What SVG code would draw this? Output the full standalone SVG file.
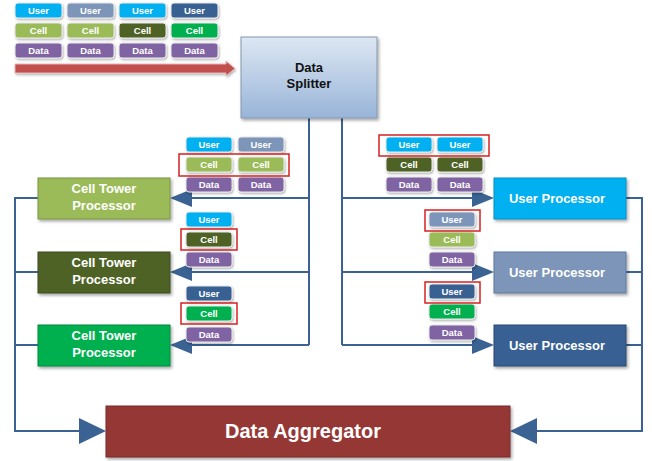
<svg xmlns="http://www.w3.org/2000/svg" width="652" height="461" viewBox="0 0 652 461">
<defs>
<filter id="sh" x="-10%" y="-10%" width="125%" height="130%">
<feDropShadow dx="1.5" dy="2" stdDeviation="1.5" flood-color="#000" flood-opacity="0.35"/>
</filter>
<filter id="tsh" x="-10%" y="-20%" width="125%" height="150%">
<feDropShadow dx="1" dy="1.5" stdDeviation="1" flood-color="#000" flood-opacity="0.3"/>
</filter>
<linearGradient id="spl" x1="0" y1="0" x2="0" y2="1">
<stop offset="0" stop-color="#dde7f3"/>
<stop offset="1" stop-color="#98b4d8"/>
</linearGradient>
</defs>
<style>
.box{stroke-width:1;filter:url(#sh)}
.bt{font-family:"Liberation Sans",Arial,sans-serif;font-weight:bold;fill:#fff;text-anchor:middle}
.tk rect{stroke:#e8e8e8;stroke-width:1;filter:url(#tsh)}
.tk text{font-family:"Liberation Sans",Arial,sans-serif;font-weight:bold;font-size:9.5px;fill:#fff;text-anchor:middle}
.u1{fill:#00b0f0}.u2{fill:#7b95b9}.u3{fill:#376092}
.c1{fill:#9bbb59}.c2{fill:#4f6228}.c3{fill:#00b050}
.d{fill:#8064a2}
.tk rect.sel{fill:none;stroke:#d62020;stroke-width:1.5;filter:none}
.ln{fill:none;stroke:#3a6293;stroke-width:2}
.ah{fill:#3a6293}
</style>

<!-- legend tokens -->
<g id="legend" class="tk">
<rect class="u1" x="15" y="3" width="47" height="15" rx="3"/><text x="38.5" y="14">User</text>
<rect class="u2" x="67" y="3" width="47" height="15" rx="3"/><text x="90.5" y="14">User</text>
<rect class="u1" x="119" y="3" width="47" height="15" rx="3"/><text x="142.5" y="14">User</text>
<rect class="u3" x="171" y="3" width="47" height="15" rx="3"/><text x="194.5" y="14">User</text>
<rect class="c1" x="15" y="23" width="47" height="15" rx="3"/><text x="38.5" y="34">Cell</text>
<rect class="c1" x="67" y="23" width="47" height="15" rx="3"/><text x="90.5" y="34">Cell</text>
<rect class="c2" x="119" y="23" width="47" height="15" rx="3"/><text x="142.5" y="34">Cell</text>
<rect class="c3" x="171" y="23" width="47" height="15" rx="3"/><text x="194.5" y="34">Cell</text>
<rect class="d" x="15" y="43" width="47" height="15" rx="3"/><text x="38.5" y="54">Data</text>
<rect class="d" x="67" y="43" width="47" height="15" rx="3"/><text x="90.5" y="54">Data</text>
<rect class="d" x="119" y="43" width="47" height="15" rx="3"/><text x="142.5" y="54">Data</text>
<rect class="d" x="171" y="43" width="47" height="15" rx="3"/><text x="194.5" y="54">Data</text>
</g>
<g id="flow-arrow">
<polygon points="15,64 226,64 226,61 235,68.5 226,76 226,73 15,73" fill="#c0504d" stroke="#e6b8b7" stroke-width="1" filter="url(#tsh)"/>
</g>

<!-- connectors -->
<g id="connectors">
<path class="ln" d="M309,118 V345 M309,198 H190 M309,272 H190 M309,345 H190"/>
<path class="ln" d="M342,118 V345 M342,198 H474 M342,272 H474 M342,345 H474"/>
<polygon class="ah" points="170,198 192,189 192,207"/>
<polygon class="ah" points="170,272 192,263 192,281"/>
<polygon class="ah" points="170,345 192,336 192,354"/>
<polygon class="ah" points="494,198 472,189 472,207"/>
<polygon class="ah" points="494,272 472,263 472,281"/>
<polygon class="ah" points="494,345 472,336 472,354"/>
<path class="ln" d="M38,198 H15 V431 H82 M38,272 H15 M38,345 H15"/>
<path class="ln" d="M626,198 H642 V431 H536 M626,272 H642 M626,345 H642"/>
<polygon class="ah" points="106,431 79,418 79,444"/>
<polygon class="ah" points="510,431 537,418 537,444"/>
</g>

<!-- data splitter -->
<g id="splitter">
<rect class="box" x="241" y="37" width="136" height="81" fill="url(#spl)" stroke="#8498ae"/>
<text x="309" y="72" font-family="Liberation Sans,Arial,sans-serif" font-weight="bold" font-size="13" fill="#111" text-anchor="middle">Data</text>
<text x="309" y="88" font-family="Liberation Sans,Arial,sans-serif" font-weight="bold" font-size="13" fill="#111" text-anchor="middle">Splitter</text>
</g>

<!-- cell tower processors -->
<g id="ctp1">
<rect class="box" x="38" y="178" width="132" height="41" fill="#9bbb59" stroke="#7a9443"/>
<text class="bt" font-size="13" x="104" y="193">Cell Tower</text>
<text class="bt" font-size="13" x="104" y="210">Processor</text>
</g>
<g id="ctp2">
<rect class="box" x="38" y="252" width="132" height="41" fill="#4f6228" stroke="#3b4a1e"/>
<text class="bt" font-size="13" x="104" y="267">Cell Tower</text>
<text class="bt" font-size="13" x="104" y="284">Processor</text>
</g>
<g id="ctp3">
<rect class="box" x="38" y="325" width="132" height="41" fill="#00b050" stroke="#00893e"/>
<text class="bt" font-size="13" x="104" y="340">Cell Tower</text>
<text class="bt" font-size="13" x="104" y="357">Processor</text>
</g>

<!-- user processors -->
<g id="up1">
<rect class="box" x="494" y="178" width="132" height="41" fill="#00b0f0" stroke="#0090c4"/>
<text class="bt" font-size="13" x="557" y="203">User Processor</text>
</g>
<g id="up2">
<rect class="box" x="494" y="252" width="132" height="41" fill="#7b95b9" stroke="#61799b"/>
<text class="bt" font-size="13" x="557" y="277">User Processor</text>
</g>
<g id="up3">
<rect class="box" x="494" y="325" width="132" height="41" fill="#376092" stroke="#294a72"/>
<text class="bt" font-size="13" x="557" y="350">User Processor</text>
</g>

<!-- aggregator -->
<g id="aggregator">
<rect class="box" x="106" y="406" width="404" height="51" fill="#953735" stroke="#772b2a"/>
<text class="bt" font-size="20" x="303" y="438">Data Aggregator</text>
</g>

<!-- token groups left -->
<g id="tokens-left-1" class="tk">
<rect class="u1" x="186" y="137" width="46" height="15" rx="3"/><text x="209" y="148">User</text>
<rect class="u2" x="238" y="137" width="46" height="15" rx="3"/><text x="261" y="148">User</text>
<rect class="c1" x="186" y="157" width="46" height="15" rx="3"/><text x="209" y="168">Cell</text>
<rect class="c1" x="238" y="157" width="46" height="15" rx="3"/><text x="261" y="168">Cell</text>
<rect class="d" x="186" y="177" width="46" height="15" rx="3"/><text x="209" y="188">Data</text>
<rect class="d" x="238" y="177" width="46" height="15" rx="3"/><text x="261" y="188">Data</text>
<rect class="sel" x="179" y="154" width="110" height="22"/>
</g>
<g id="tokens-left-2" class="tk">
<rect class="u1" x="186" y="212" width="46" height="15" rx="3"/><text x="209" y="223">User</text>
<rect class="c2" x="186" y="232" width="46" height="15" rx="3"/><text x="209" y="243">Cell</text>
<rect class="d" x="186" y="252" width="46" height="15" rx="3"/><text x="209" y="263">Data</text>
<rect class="sel" x="181" y="229" width="56" height="21"/>
</g>
<g id="tokens-left-3" class="tk">
<rect class="u3" x="186" y="286" width="46" height="15" rx="3"/><text x="209" y="297">User</text>
<rect class="c3" x="186" y="306" width="46" height="15" rx="3"/><text x="209" y="317">Cell</text>
<rect class="d" x="186" y="327" width="46" height="15" rx="3"/><text x="209" y="338">Data</text>
<rect class="sel" x="181" y="303" width="56" height="21"/>
</g>

<!-- token groups right -->
<g id="tokens-right-1" class="tk">
<rect class="u1" x="386" y="137" width="46" height="15" rx="3"/><text x="409" y="148">User</text>
<rect class="u1" x="437" y="137" width="46" height="15" rx="3"/><text x="460" y="148">User</text>
<rect class="c2" x="386" y="157" width="46" height="15" rx="3"/><text x="409" y="168">Cell</text>
<rect class="c2" x="437" y="157" width="46" height="15" rx="3"/><text x="460" y="168">Cell</text>
<rect class="d" x="386" y="177" width="46" height="15" rx="3"/><text x="409" y="188">Data</text>
<rect class="d" x="437" y="177" width="46" height="15" rx="3"/><text x="460" y="188">Data</text>
<rect class="sel" x="379" y="135" width="110" height="21"/>
</g>
<g id="tokens-right-2" class="tk">
<rect class="u2" x="429" y="212" width="46" height="15" rx="3"/><text x="452" y="223">User</text>
<rect class="c1" x="429" y="232" width="46" height="15" rx="3"/><text x="452" y="243">Cell</text>
<rect class="d" x="429" y="252" width="46" height="15" rx="3"/><text x="452" y="263">Data</text>
<rect class="sel" x="425" y="210" width="55" height="21"/>
</g>
<g id="tokens-right-3" class="tk">
<rect class="u3" x="429" y="284" width="46" height="15" rx="3"/><text x="452" y="295">User</text>
<rect class="c3" x="429" y="304" width="46" height="15" rx="3"/><text x="452" y="315">Cell</text>
<rect class="d" x="429" y="325" width="46" height="15" rx="3"/><text x="452" y="336">Data</text>
<rect class="sel" x="425" y="282" width="55" height="21"/>
</g>
</svg>
